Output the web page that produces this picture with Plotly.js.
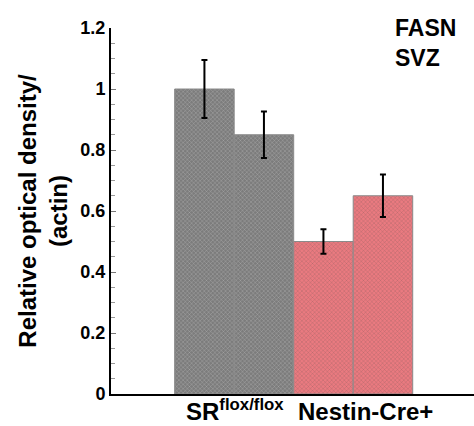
<!DOCTYPE html>
<html>
<head>
<meta charset="utf-8">
<script src="https://cdn.plot.ly/plotly-3.0.1.min.js"></script>
<style>html,body{margin:0;padding:0;background:#fff;}#chart{width:474px;height:426px;}</style>
</head>
<body>
<div id="chart"></div>
<script>
const bars = ["SR flox 1", "SR flox 2", "Nestin-Cre+ 1", "Nestin-Cre+ 2"];
const values = [1.0, 0.85, 0.5, 0.65];
const errors = [0.095, 0.076, 0.04, 0.07];
const barColors = ["#7c7c7c", "#7c7c7c", "#ea7a80", "#ea7a80"];
const patternColors = ["#5a5a5a", "#5a5a5a", "#d8606a", "#d8606a"];
const groupLabels = ["SR<sup>flox/flox</sup>", "Nestin-Cre+"];
const groupCenters = [0.52, 2.7];
const yTicks = [0, 0.2, 0.4, 0.6, 0.8, 1, 1.2];
const yTickText = ["0", "0.2", "0.4", "0.6", "0.8", "1", "1.2"];

const font = "Arial, 'Liberation Sans', sans-serif";

const trace = {
  type: "bar",
  x: bars,
  y: values,
  width: 1,
  marker: {
    color: barColors,
    line: {color: "#8a8a8a", width: 1},
    pattern: {shape: "x", size: 3, solidity: 0.2, fgcolor: patternColors, fillmode: "overlay"}
  },
  error_y: {type: "data", array: errors, visible: true, color: "#000", thickness: 2, width: 3},
  hoverinfo: "skip"
};

const annotations = groupLabels.map((t, i) => ({
  text: t, x: groupCenters[i], xref: "x", y: -33 / 366, yref: "paper",
  yanchor: "bottom", showarrow: false,
  font: {family: font, size: 24, color: "#000", weight: "bold"}
}));
annotations.push({
  text: "FASN<br>SVZ", x: (393 - 111) / (474 - 111), xref: "paper",
  y: 1 + (28 - 13) / 366, yref: "paper",
  showarrow: false, align: "left", xanchor: "left", yanchor: "top",
  font: {family: font, size: 23, color: "#000", weight: "bold"}
});

const layout = {
  width: 474, height: 426,
  margin: {l: 111, r: 0, t: 28, b: 32, pad: 0},
  paper_bgcolor: "#fff", plot_bgcolor: "#fff",
  bargap: 0,
  showlegend: false,
  xaxis: {
    type: "category", range: [-1.57, 4.53],
    showticklabels: false, ticks: "", showgrid: false, zeroline: false,
    showline: true, linecolor: "#000", linewidth: 2
  },
  yaxis: {
    range: [0, 1.2], tickvals: yTicks, ticktext: yTickText,
    ticks: "inside", ticklen: 5, tickcolor: "#777", tickwidth: 1,
    minor: {dtick: 0.05, tick0: 0, ticks: "inside", ticklen: 4, tickcolor: "#999", tickwidth: 1, showgrid: false},
    showgrid: false, zeroline: false,
    showline: true, linecolor: "#000", linewidth: 2,
    tickfont: {family: font, size: 18, color: "#000", weight: "bold"},
    title: {text: "Relative optical density/<br>(actin)", standoff: 6,
            font: {family: font, size: 24, color: "#000", weight: "bold"}},
    automargin: false
  },
  annotations: annotations
};

Plotly.newPlot("chart", [trace], layout, {displayModeBar: false, staticPlot: true});
</script>
</body>
</html>
